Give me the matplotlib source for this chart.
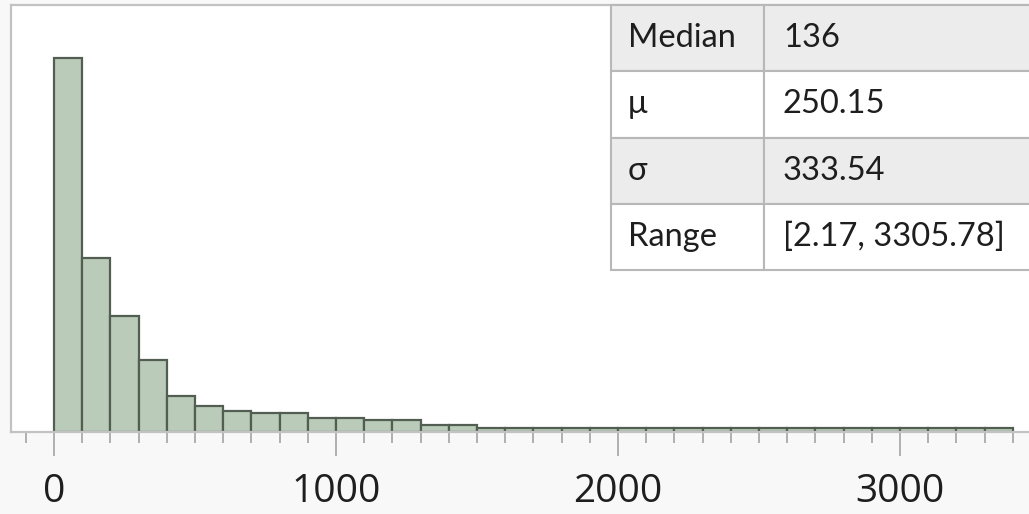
import numpy as np
import matplotlib
matplotlib.use('Agg')
from matplotlib import pyplot as plt

# histogram counts per 100-wide bin, starting at 0
bin_width = 100
counts = [220, 102, 68, 42, 21, 15, 12, 11, 11, 8, 8, 7, 7, 4, 4,
          2, 2, 2, 2, 2, 2, 2, 2, 2, 2, 2, 2, 2, 2, 2, 2, 2, 2, 2]
bin_starts = [i * bin_width for i in range(len(counts))]

# summary statistics table
stat_names = ['Median', 'μ', 'σ', 'Range']
stat_values = ['136', '250.15', '333.54', '[2.17, 3305.78]']

major_ticks = [0, 1000, 2000, 3000]

BAR_FILL = '#bacbba'
BAR_EDGE = '#525e52'
FRAME = '#c2c2c2'
TICK = '#9c9c9c'

W, H = 1029, 514
fig = plt.figure(figsize=(W / 100, H / 100), dpi=100, facecolor='#f8f8f8')

ax = fig.add_axes([11 / W, (H - 431.7) / H, (W - 11) / W, (431.7 - 5) / H])
ax.set_facecolor('white')
ax.bar(bin_starts, counts, width=bin_width, align='edge',
       color=BAR_FILL, edgecolor=BAR_EDGE, linewidth=1.6, zorder=2)

px_per_unit = (900 - 54) / 3000
ax.set_xlim((11 - 54) / px_per_unit, (W - 54) / px_per_unit)
ax.set_ylim(0, (431.7 - 5) / 1.7)

for side in ['top', 'left', 'bottom']:
    ax.spines[side].set_color(FRAME)
    ax.spines[side].set_linewidth(1.6)
ax.spines['right'].set_visible(False)

ax.set_yticks([])
ax.set_xticks(major_ticks)
ax.set_xticks([v for v in range(-100, bin_starts[-1] + 2 * bin_width, bin_width)
               if v not in major_ticks], minor=True)
ax.tick_params(axis='x', which='major', length=17.5, width=1.1, color=TICK,
               labelsize=28, labelcolor='#1e1e1e', pad=12)
ax.tick_params(axis='x', which='minor', length=8, width=1.1, color=TICK)
for lab in ax.get_xticklabels():
    lab.set_fontfamily('Open Sans')

# statistics table in the upper right corner
tx0, ty0, ty1 = 611, 5, 270
tax = fig.add_axes([tx0 / W, (H - ty1) / H, (W + 12 - tx0) / W, (ty1 - ty0) / H])
tax.axis('off')
col_w = [153, W + 12 - 764]
cell_text = [[n, v] for n, v in zip(stat_names, stat_values)]
tbl = tax.table(cellText=cell_text, cellLoc='left', bbox=[0, 0, 1, 1],
                colWidths=[c / sum(col_w) for c in col_w])
tbl.auto_set_font_size(False)
tbl.set_fontsize(23.5)
for (r, c), cell in tbl.get_celld().items():
    cell.set_edgecolor('#b8b8b8')
    cell.set_linewidth(1.5)
    cell.set_facecolor('#ececec' if r % 2 == 0 else 'white')
    cell.PAD = 17 / col_w[0] if c == 0 else 19 / col_w[1]
    cell.get_text().set_fontfamily('Lato')
    cell.get_text().set_color('#1e1e1e')

fig.savefig('out.png', dpi=100, facecolor=fig.get_facecolor())
